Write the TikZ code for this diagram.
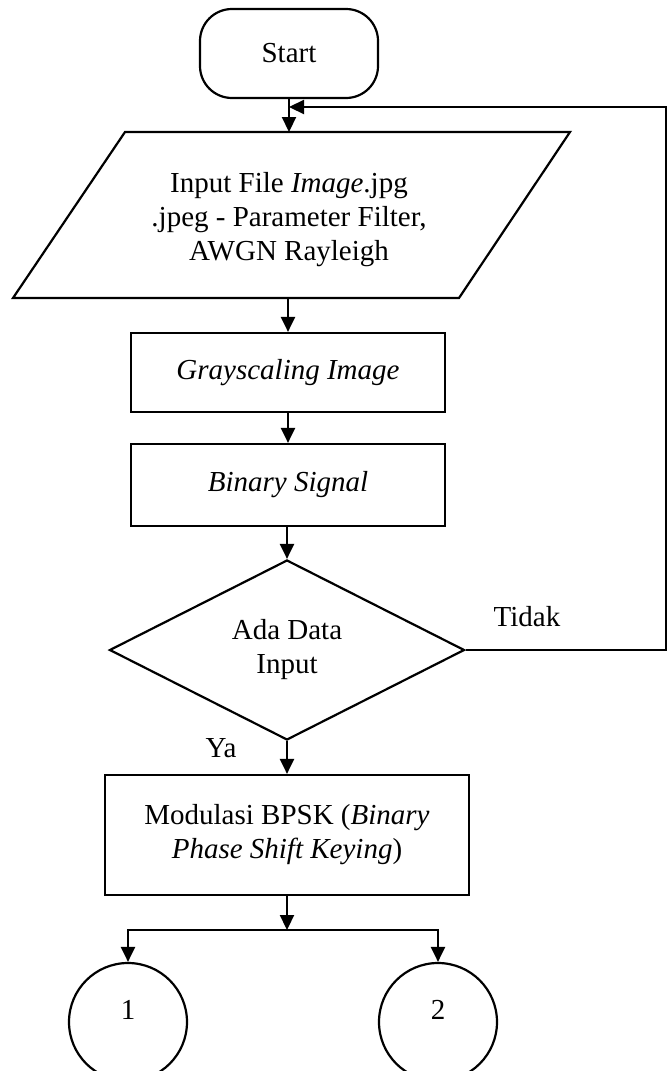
\documentclass[tikz,border=0pt]{standalone}
\usepackage{fontspec}
\setmainfont{Liberation Serif}
\usetikzlibrary{shapes.geometric,arrows.meta}
\begin{document}
\begin{tikzpicture}[x=1pt,y=-1pt,
  every node/.style={font=\fontsize{29pt}{34pt}\selectfont, inner sep=0pt, align=center},
  ln/.style={line width=2.2pt},
  arr/.style={ln,-{Triangle[length=15pt,width=14pt]}},
  procbox/.style={draw,ln,rectangle},
  termbox/.style={draw,ln,rectangle,rounded corners=32pt,minimum width=178pt,minimum height=89pt},
  decbox/.style={draw,ln,diamond,minimum width=355pt,minimum height=180pt},
  conn/.style={draw,ln,circle,minimum size=118pt}
]
\useasboundingbox (0,0) rectangle (667,1071);
\node[termbox] (start) at (289,53.5) {Start};
% input parallelogram
\draw[ln,line join=miter] (125,132) -- (570,132) -- (459,298) -- (13,298) -- cycle;
\node (pin) at (289,220) {Input File \textit{Image}.jpg\\.jpeg - Parameter Filter,\\AWGN Rayleigh};
\coordinate (pintop) at (289,132);
\coordinate (pinbot) at (288,298);
\node[procbox,minimum width=314pt,minimum height=79pt] (gray) at (288,372.5) {\textit{Grayscaling Image}};
\node[procbox,minimum width=314pt,minimum height=82pt] (bin) at (288,485) {\textit{Binary Signal}};
\node[decbox] (dia) at (287,650) {Ada Data\\Input};
\node[procbox,minimum width=364pt,minimum height=120pt] (mod) at (287,835) {Modulasi BPSK (\textit{Binary}\\\textit{Phase Shift Keying})};
\node[conn] (c1) at (128,1022) {\raisebox{24pt}{1}};
\node[conn] (c2) at (438,1022) {\raisebox{24pt}{2}};
\node (tidak) at (527,617) {Tidak};
\node (ya) at (221,748) {Ya};
\coordinate (join) at (289,107);
\coordinate (rx) at (666,107);
\coordinate (br) at (287,930);
\draw[arr] (start.south) -- (pintop);
\draw[arr] (dia.east) -- (dia.east -| rx) |- (join);
\draw[arr] (pinbot) -- (gray.north);
\draw[arr] (gray.south) -- (bin.north);
\draw[arr] (bin.south -| dia.north) -- (dia.north);
\draw[arr] (dia.south) -- (mod.north);
\draw[arr] (mod.south) -- (br);
\draw[arr] (br) -| (c1.north);
\draw[arr] (br) -| (c2.north);
\end{tikzpicture}
\end{document}
